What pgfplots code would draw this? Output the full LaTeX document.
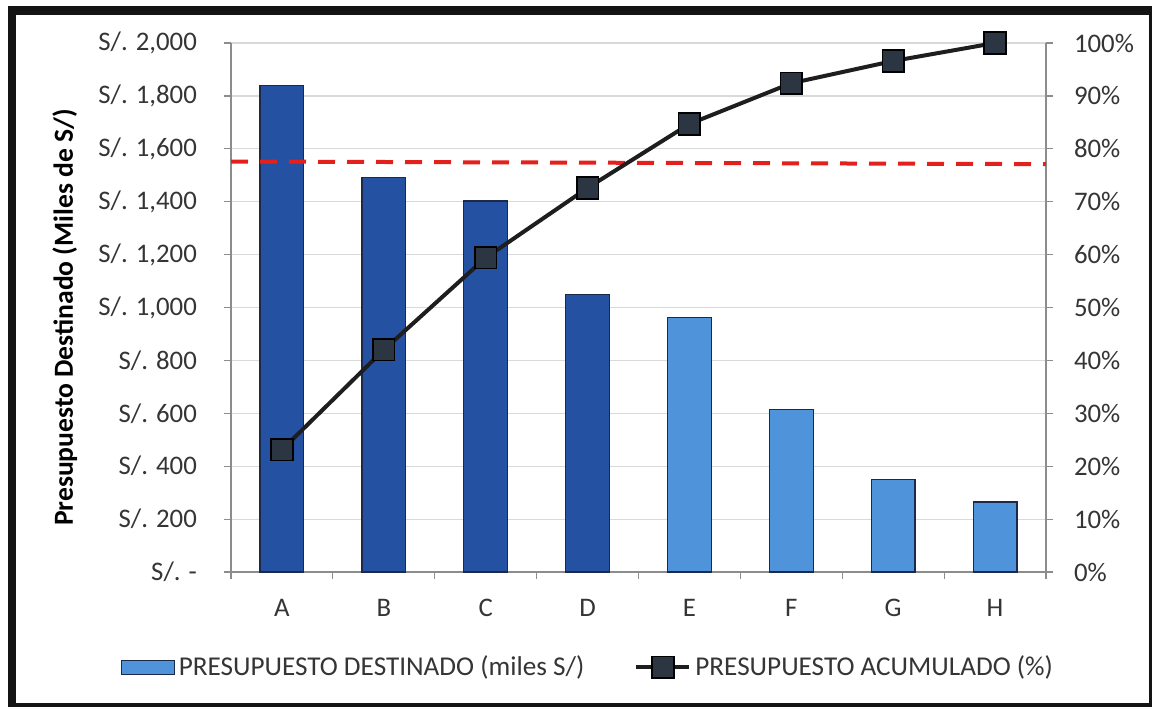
\documentclass[border=0pt]{standalone}
\usepackage{pgfplots}
\pgfplotsset{compat=1.18}
\usepackage{fontspec}
\setmainfont{Carlito}
\definecolor{darkbar}{HTML}{2451A2}
\definecolor{lightbar}{HTML}{4F94DA}
\definecolor{barline}{HTML}{1B2A4A}
\definecolor{gridc}{HTML}{D9D9D9}
\definecolor{axisc}{HTML}{8C8C8C}
\definecolor{txt}{HTML}{353535}
\definecolor{mk}{HTML}{2C3542}
\definecolor{lnc}{HTML}{1E1E1E}
\definecolor{redd}{HTML}{E3201B}
\pgfplotsset{
  lineleg/.style={legend image code/.code={\draw[mark repeat=2,mark phase=2,##1] plot coordinates {(-4pt,0pt)(9.25pt,0pt)(22.5pt,0pt)};}},
  barleg/.style={legend image code/.code={\draw[fill=lightbar, draw=barline, line width=0.6pt] (0pt,-3.5pt) rectangle (26.5pt,3.5pt);}},
}
\begin{document}
\begin{tikzpicture}[x=1pt,y=1pt]
\useasboundingbox (0,0) rectangle (576.5,354.5);
\fill[white] (0,0) rectangle (576.5,354.5);
\fill[black!92] (3.85,1) rectangle (8,351.5);
\fill[black!92] (3.85,347) rectangle (575.8,351.5);
\fill[black!92] (3.85,1) rectangle (575.8,3);
\fill[black!92] (574.6,1) rectangle (575.8,351.5);
\begin{axis}[
  at={(115.5pt,68.5pt)}, anchor=south west,
  scale only axis, width=407.5pt, height=264.5pt,
  xmin=-0.5, xmax=7.5, ymin=0, ymax=2000,
  axis x line*=bottom, axis y line*=left,
  axis line style={-, draw=axisc, line width=0.6pt},
  tick align=outside, major tick length=3.5pt,
  tick style={draw=axisc, line width=0.6pt},
  xtick={-0.5,0.5,...,7.5}, xticklabels={},
  extra x ticks={0,1,2,3,4,5,6,7},
  extra x tick labels={A,B,C,D,E,F,G,H},
  extra x tick style={major tick length=0pt},
  xticklabel style={yshift=-10pt},
  ytick={0,200,...,2000},
  yticklabels={{S/. -},{S/. 200},{S/. 400},{S/. 600},{S/. 800},{S/. 1,000},{S/. 1,200},{S/. 1,400},{S/. 1,600},{S/. 1,800},{S/. 2,000}},
  yticklabel style={xshift=-10pt},
  ymajorgrids, grid style={draw=gridc, line width=0.6pt},
  tick label style={font=\fontsize{13.4}{15}\selectfont, text=txt},
  ylabel={Presupuesto Destinado (Miles de S/)},
  ylabel style={font=\bfseries\fontsize{13.8}{16}\selectfont, text=black, at={(axis description cs:-0.204,0.481)}, anchor=center},
]
\addplot[ybar, bar width=0.43, bar shift=0pt, fill=darkbar, draw=barline, line width=0.6pt]
  coordinates {(0,1840) (1,1490) (2,1403) (3,1050)};
\addplot[ybar, bar width=0.43, bar shift=0pt, fill=lightbar, draw=barline, line width=0.6pt]
  coordinates {(4,963) (5,615) (6,349) (7,265)};
\end{axis}
\begin{axis}[
  at={(115.5pt,68.5pt)}, anchor=south west,
  scale only axis, width=407.5pt, height=264.5pt,
  xmin=-0.5, xmax=7.5, ymin=0, ymax=100,
  axis y line*=right, axis x line=none, xtick=\empty,
  axis line style={-, draw=axisc, line width=0.6pt},
  tick align=outside, major tick length=3.5pt,
  tick style={draw=axisc, line width=0.6pt},
  ytick={0,10,...,100},
  yticklabels={0\%,10\%,20\%,30\%,40\%,50\%,60\%,70\%,80\%,90\%,100\%},
  yticklabel style={xshift=7pt},
  tick label style={font=\fontsize{13.4}{15}\selectfont, text=txt},
  legend columns=2,
  legend style={at={(axis description cs:-0.136,-0.18)}, anchor=west, draw=none, fill=none,
    inner sep=0pt, font=\fontsize{13.6}{15}\selectfont, text=txt,
    /tikz/every even column/.append style={column sep=23pt}},
]
\addlegendimage{barleg}
\addlegendentry{PRESUPUESTO DESTINADO (miles S/)}
\addplot[forget plot, redd, line width=2pt, dash pattern=on 8.5pt off 6pt]
  coordinates {(-0.5,77.6) (7.5,77.1)};
\addplot[lnc, line width=2pt, mark=square*, mark size=5.4pt,
  mark options={fill=mk, draw=black, line width=0.8pt, solid}, lineleg]
  coordinates {(0,23.1) (1,42.0) (2,59.4) (3,72.6) (4,84.7) (5,92.4) (6,96.6) (7,100)};
\addlegendentry{PRESUPUESTO ACUMULADO (\%)}
\end{axis}
\end{tikzpicture}
\end{document}
